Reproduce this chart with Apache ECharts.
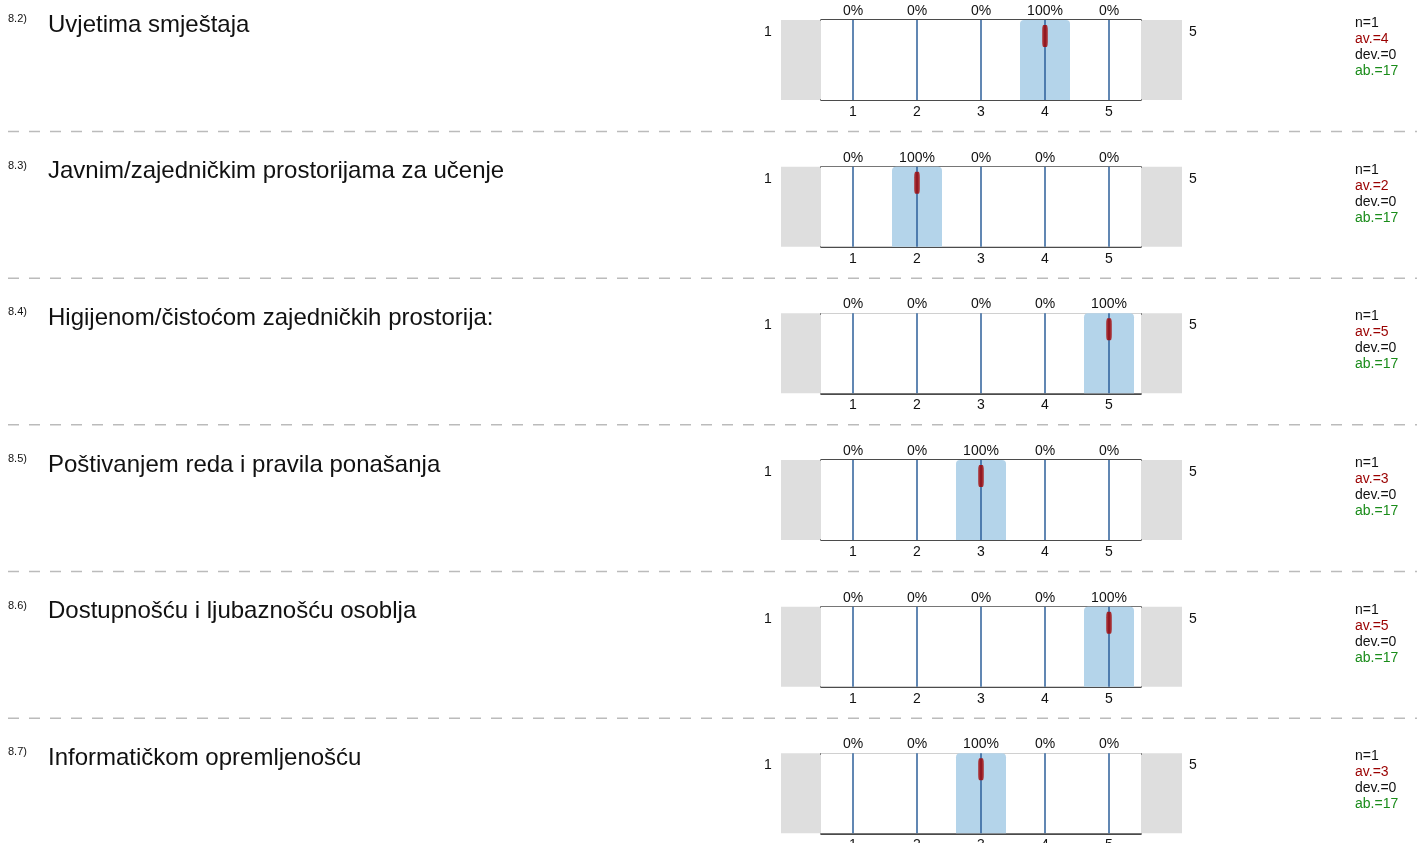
<!DOCTYPE html>
<html>
<head>
<meta charset="utf-8">
<script src="https://cdn.jsdelivr.net/npm/echarts@6/dist/echarts.min.js"></script>
<style>
html,body{margin:0;padding:0;background:#fff;}
#c{width:1417px;height:843px;}
</style>
</head>
<body>
<div id="c"></div>
<script>
const questionNumbers = ['8.2)', '8.3)', '8.4)', '8.5)', '8.6)', '8.7)'];
const questions = [
  'Uvjetima smještaja',
  'Javnim/zajedničkim prostorijama za učenje',
  'Higijenom/čistoćom zajedničkih prostorija:',
  'Poštivanjem reda i pravila ponašanja',
  'Dostupnošću i ljubaznošću osoblja',
  'Informatičkom opremljenošću'
];
const scaleValues = ['1', '2', '3', '4', '5'];
const poleLeft = '1';
const poleRight = '5';
const percents = [
  [0, 0, 0, 100, 0],
  [0, 100, 0, 0, 0],
  [0, 0, 0, 0, 100],
  [0, 0, 100, 0, 0],
  [0, 0, 0, 0, 100],
  [0, 0, 100, 0, 0]
];
const means = [4, 2, 5, 3, 5, 3];
const counts = [1, 1, 1, 1, 1, 1];
const deviations = [0, 0, 0, 0, 0, 0];
const abstentions = [17, 17, 17, 17, 17, 17];

const FONT = 'Liberation Sans, Arial, sans-serif';
const ROW_H = 146.67;
const ROW0 = 20;
const PLOT_H = 80;
const MAIN_LEFT = 821, MAIN_W = 320;
const GRAY_LEFT = 781, GRAY_W = 401;

const grid = [], xAxis = [], yAxis = [], series = [], graphic = [];

questions.forEach((q, r) => {
  const top = ROW0 + r * ROW_H;
  grid.push({left: GRAY_LEFT, width: GRAY_W, top: top, height: PLOT_H, show: true,
    backgroundColor: '#dedede', borderWidth: 0, z: 0, outerBoundsMode: 'none', containLabel: false});
  grid.push({left: MAIN_LEFT, width: MAIN_W, top: top, height: PLOT_H, show: true,
    backgroundColor: '#ffffff', borderWidth: 0, z: 1, outerBoundsMode: 'none', containLabel: false});
  const gMain = r * 2 + 1;
  const gGray = r * 2;
  const xb = xAxis.length;
  xAxis.push({
    type: 'category', gridIndex: gMain, position: 'bottom', data: scaleValues,
    boundaryGap: true,
    axisLine: {show: true, lineStyle: {color: '#111', width: 1.6}},
    axisTick: {show: false},
    axisLabel: {color: '#111', fontSize: 14, fontFamily: FONT, margin: 5},
    splitLine: {show: false}
  });
  xAxis.push({
    type: 'category', gridIndex: gMain, position: 'top', data: scaleValues,
    boundaryGap: true,
    axisLine: {show: true, lineStyle: {color: '#111', width: 1.6}},
    axisTick: {show: false},
    axisLabel: {color: '#111', fontSize: 14, fontFamily: FONT, margin: 2,
      formatter: (v, i) => percents[r][i] + '%'},
    splitLine: {show: false}
  });
  xAxis.push({
    type: 'value', gridIndex: gMain, min: 0.5, max: 5.5, show: false
  });
  xAxis.push({type: 'value', gridIndex: gGray, min: 0, max: 1, show: false});
  const yi = yAxis.length;
  yAxis.push({type: 'value', gridIndex: gMain, min: 0, max: 100, show: false});
  yAxis.push({type: 'value', gridIndex: gGray, min: 0, max: 1, show: false});

  series.push({
    type: 'bar', xAxisIndex: xb, yAxisIndex: yi, data: percents[r],
    barWidth: 50, z: 2, silent: true,
    itemStyle: {color: '#b4d4ea', borderRadius: [4, 4, 0, 0]},
    animation: false
  });
  series.push({
    type: 'scatter', xAxisIndex: xb + 2, yAxisIndex: yi,
    data: [[means[r], 80]],
    symbol: 'roundRect', symbolSize: [5.5, 22], z: 4, silent: true,
    itemStyle: {color: '#a30000'},
    animation: false,
    markLine: {
      z: 3, silent: true, symbol: 'none', animation: false,
      label: {show: false},
      lineStyle: {color: '#2d5f9a', width: 1.5, type: 'solid'},
      emphasis: {disabled: true},
      data: scaleValues.map(v => ({xAxis: Number(v)}))
    }
  });

  graphic.push({type: 'text', left: 8, top: top - 6.5,
    style: {text: questionNumbers[r], font: '11px ' + FONT, fill: '#111'}});
  graphic.push({type: 'text', left: 48, top: top - 7,
    style: {text: q, font: '24px ' + FONT, fill: '#111'}});
  graphic.push({type: 'text', x: 768, y: top + 12,
    style: {text: poleLeft, font: '14px ' + FONT, fill: '#111', align: 'center', verticalAlign: 'middle'}});
  graphic.push({type: 'text', x: 1193, y: top + 12,
    style: {text: poleRight, font: '14px ' + FONT, fill: '#111', align: 'center', verticalAlign: 'middle'}});
  const statsColors = ['#111', '#9a0000', '#111', '#1a8c1a'];
  const statsTexts = ['n=' + counts[r], 'av.=' + means[r], 'dev.=' + deviations[r], 'ab.=' + abstentions[r]];
  statsTexts.forEach((t, k) => {
    graphic.push({type: 'text', x: 1355, y: top + 3 + k * 16,
      style: {text: t, font: '14px ' + FONT, fill: statsColors[k], verticalAlign: 'middle'}});
  });
  if (r < questions.length - 1) {
    const sy = top + 111.5;
    graphic.push({type: 'line', shape: {x1: 8, y1: sy, x2: 1417, y2: sy},
      style: {stroke: '#bbbbbb', lineWidth: 1.5, lineDash: [11, 10]}});
  }
});

const chart = echarts.init(document.getElementById('c'), null, {renderer: 'canvas'});
chart.setOption({
  animation: false,
  backgroundColor: '#ffffff',
  textStyle: {fontFamily: FONT},
  grid: grid, xAxis: xAxis, yAxis: yAxis, series: series, graphic: graphic
});
</script>
</body>
</html>
